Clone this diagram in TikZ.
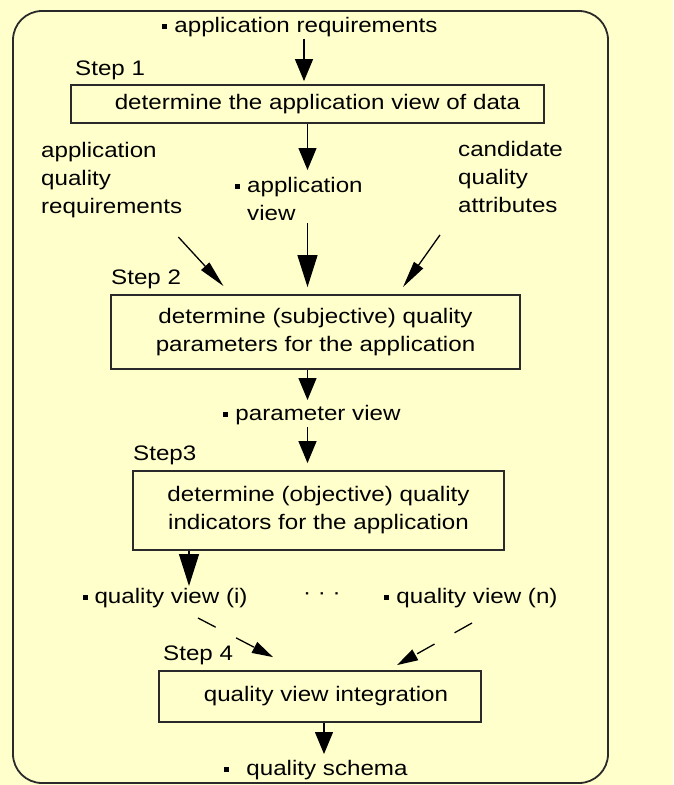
\documentclass[tikz,border=0pt]{standalone}
\usepackage{fontspec}
\usepackage{xcolor}
\usepackage{tikz}
\usetikzlibrary{arrows.meta}
\newfontfamily\diafont{Liberation Sans}[FakeStretch=1.15]
\definecolor{paper}{HTML}{FFFFCC}
\definecolor{ink}{HTML}{2A2A2A}
\newcommand{\bul}{\rule[3.5pt]{5pt}{5pt}\hspace{7pt}}

\begin{document}
\begin{tikzpicture}[x=1pt,y=-1pt,
	every node/.style={font=\diafont\fontsize{21}{28}\selectfont, inner sep=2pt},
	stepbox/.style={draw=ink, line width=1.8pt, align=center},
	arr/.style={draw=black, line width=1.3pt, -{Triangle[width=18pt,length=22pt]}},
	bigarr/.style={arr, -{Triangle[width=20pt,length=32pt]}},
	slantarr/.style={arr, -{Triangle[width=11pt,length=27pt]}},
	dasharr/.style={arr, dash pattern=on 20pt off 23pt, -{Triangle[width=12pt,length=21pt]}}]
	\fill[paper] (0,0) rectangle (673,785);
	\draw[ink, line width=1.8pt, rounded corners=29pt] (13,11) rectangle (608,783);
	\node at (300,27) (req) {\bul application requirements};
	\node[anchor=west] at (73,70) (s1) {Step 1};
	\node[stepbox, minimum width=473pt, minimum height=38pt] at (307.5,104) (box1) {\hspace*{20pt}determine the application view of data};
	\node[anchor=north west, align=left] at (233,175) (appview) {\bul application\\\phantom{\bul}view};
	\node[anchor=west, align=left] at (39,180) (appqual) {application\\quality\\requirements};
	\node[anchor=west, align=left] at (456,177) (cand) {candidate\\quality\\attributes};
	\node[anchor=west] at (109,279) (s2) {Step 2};
	\node[stepbox, minimum width=409pt, minimum height=74pt] at (315.5,332) (box2) {determine (subjective) quality\\parameters for the application};
	\node at (312,415) (param) {\bul parameter view};
	\node[anchor=west] at (131,455) (s3) {Step3};
	\node[stepbox, minimum width=371pt, minimum height=79pt] at (318.5,510.5) (box3) {determine (objective) quality\\indicators for the application};
	\node at (165,598) (qvi) {\bul quality view (i)};
	\node at (322,596) (dots) {· · ·};
	\node at (471,598) (qvn) {\bul quality view (n)};
	\node[anchor=west] at (161,655) (s4) {Step 4};
	\node[stepbox, minimum width=322pt, minimum height=51pt] at (320,696.5) (box4) {\hspace*{12pt}quality view integration};
	\node at (316,770) (schema) {\bul\hspace{10pt}quality schema};
	\draw [arr, shorten >=3pt] ([xshift=4pt]req.south) -- ([xshift=-3.5pt]box1.north);
	\draw [arr, shorten >=5pt] (box1.south) -- (box1.south |- appview.north);
	\draw [bigarr, shorten >=7pt] (box1.south |- appview.south) -- (box1.south |- box2.north);
	\draw [slantarr] ([xshift=-6pt,yshift=-17pt]appqual.south east) -- ([xshift=-92pt,yshift=8pt]box2.north);
	\draw [slantarr] ([xshift=-16pt,yshift=-20pt]cand.south west) -- ([xshift=87.5pt,yshift=7pt]box2.north);
	\draw [arr, shorten >=3pt] (box1.south |- box2.south) -- (box1.south |- param.north);
	\draw [arr, shorten >=7pt] (box1.south |- param.south) -- (box1.south |- box3.north);
	\draw [bigarr] ([xshift=-129.5pt]box3.south) -- ([xshift=24pt]qvi.north);
	\draw [dasharr] ([xshift=33pt,yshift=-8pt]qvi.south) -- ([xshift=-47pt,yshift=13pt]box4.north);
	\draw [dasharr] ([xshift=1pt,yshift=-13pt]qvn.south) -- ([xshift=77pt,yshift=5pt]box4.north);
	\draw [arr, shorten >=4pt] ([xshift=4pt]box4.south) -- ([xshift=8pt]schema.north);
\end{tikzpicture}
\end{document}
